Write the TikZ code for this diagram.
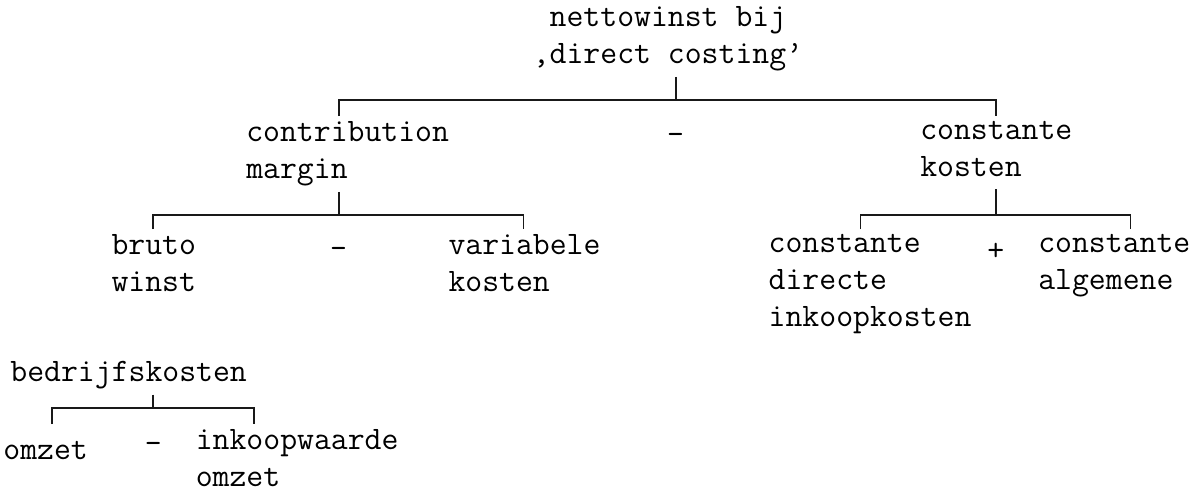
\documentclass[tikz,border=0pt]{standalone}
\usepackage{tikz}
\usetikzlibrary{calc}

% fixed top and bottom of the tree texts
\newcommand{\topstrut}{\rule{0pt}{14.8pt}}
\newcommand{\botstrut}{\rule[-3.5pt]{0pt}{3.5pt}}

\begin{document}
\begin{tikzpicture}[x=0.5pt,y=-0.5pt,
    every node/.style={inner xsep=0pt,inner ysep=2.7pt,
      font=\ttfamily\fontsize{16.4}{18.3}\selectfont},
    term/.style={anchor=north west,align=left,
      execute at begin node=\topstrut,execute at end node=\botstrut},
    op/.style={anchor=base},
    tree/.style={draw=black!90,line width=0.9pt}]
  \useasboundingbox (0,0) rectangle (1194,495);

  % top level
  \node[term,align=center] (nw) at (532.4,1) {nettowinst bij\\,direct costing’};
  \node[term] (cm) at (245.9,116) {contribution\\margin};
  \node[op] (m1) at (675.6,144) {-};
  \node[term] (ck) at (919.9,116) {constante\\kosten};

  % second level
  \node[term] (bw) at (111.1,229) {bruto\\winst};
  \node[op] (m2) at (338.6,258) {-};
  \node[term] (vk) at (448.1,229) {variabele\\kosten};
  \node[term] (cd) at (768.3,229) {constante\\directe\\inkoopkosten};
  \node[op] (p1) at (995.7,260) {+};
  \node[term] (ca) at (1037.9,229) {constante\\algemene};

  % bedrijfskosten
  \node[term] (bk) at (10,346) {bedrijfskosten};
  \node[term] (om) at (3,424) {omzet};
  \node[op] (m3) at (153.2,453) {-};
  \node[term] (iw) at (195.4,424) {inkoopwaarde\\omzet};

  % bracket points
  \coordinate (top-l) at (338.6,100);
  \coordinate (top-m) at (675.6,100);
  \coordinate (top-r) at (995.7,100);
  \coordinate (cm-l) at (153.2,215);
  \coordinate (cm-m) at (338.6,215);
  \coordinate (cm-r) at (523.4,215);
  \coordinate (ck-l) at (860.4,215);
  \coordinate (ck-m) at (995.7,215);
  \coordinate (ck-r) at (1130.5,215);
  \coordinate (bk-l) at (52.1,408);
  \coordinate (bk-m) at (153.2,408);
  \coordinate (bk-r) at (254.3,408);

  % brackets
  \draw[tree] (nw.south -| top-m) -- (top-m);
  \draw[tree] (cm.north -| top-l) |- (top-r) -- (ck.north -| top-r);
  \draw[tree] (cm.south -| cm-m) -- (cm-m);
  \draw[tree] (bw.north -| cm-l) |- (cm-r) -- (vk.north -| cm-r);
  \draw[tree] (ck.south -| ck-m) -- (ck-m);
  \draw[tree] (cd.north -| ck-l) |- (ck-r) -- (ca.north -| ck-r);
  \draw[tree] (bk.south -| bk-m) -- (bk-m);
  \draw[tree] (om.north -| bk-l) |- (bk-r) -- (iw.north -| bk-r);
\end{tikzpicture}
\end{document}
